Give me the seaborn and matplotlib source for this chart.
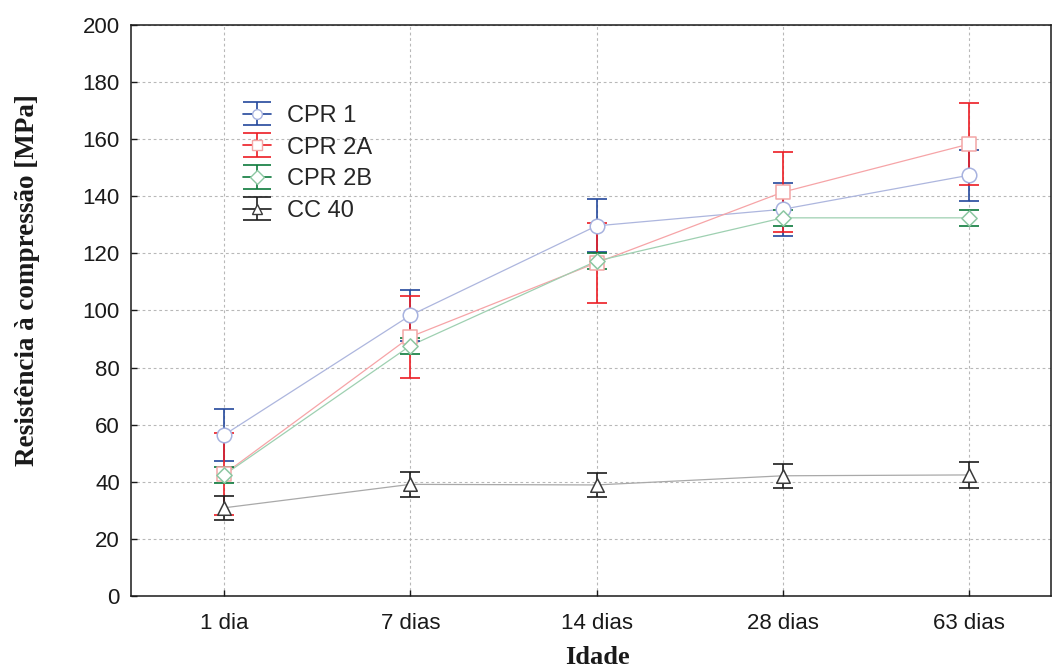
import numpy as np
import pandas as pd
import matplotlib
matplotlib.use("Agg")
import matplotlib.pyplot as plt
import seaborn as sns

# Data (mean strength and error bar half-widths, MPa)
ages = ["1 dia", "7 dias", "14 dias", "28 dias", "63 dias"]
series_names = ["CPR 1", "CPR 2A", "CPR 2B", "CC 40"]

cpr1_mean = [56.5, 98.3, 129.6, 135.4, 147.3]
cpr1_err = [9.0, 8.9, 9.3, 9.3, 8.9]
cpr2a_mean = [42.8, 90.8, 116.7, 141.4, 158.2]
cpr2a_err = [14.2, 14.3, 14.0, 14.1, 14.4]
cpr2b_mean = [42.5, 87.7, 117.3, 132.4, 132.4]
cpr2b_err = [2.8, 2.8, 2.7, 2.8, 2.8]
cc40_mean = [31.0, 39.2, 39.0, 42.2, 42.5]
cc40_err = [4.1, 4.3, 4.2, 4.2, 4.5]

y_ticks = [0, 20, 40, 60, 80, 100, 120, 140, 160, 180, 200]

# styles per series
bar_colors = ["#24489c", "#ec1c24", "#0d7a3c", "#1c1c1c"]
line_colors = ["#adb6de", "#f6a4a7", "#9ed0b1", "#a9a9a9"]
edge_colors = ["#a7b2df", "#f3a6a6", "#8cc7a2", "#3a3a3a"]
markers = ["o", "s", "D", "^"]
marker_sizes = [110, 110, 60, 95]

sns.set_theme(style="ticks")
plt.rcParams['font.family'] = ['Liberation Sans', 'DejaVu Sans']

means = [cpr1_mean, cpr2a_mean, cpr2b_mean, cc40_mean]
errs = [cpr1_err, cpr2a_err, cpr2b_err, cc40_err]
pos = np.arange(len(ages))

fig = plt.figure(figsize=(10.53, 6.72), dpi=100)
ax = fig.add_axes([0.1244, 0.1124, 0.8737, 0.8511])

handles = []
for i, name in enumerate(series_names):
    df = pd.DataFrame({"pos": pos, "value": means[i]})
    # thin light connecting line
    sns.lineplot(data=df, x="pos", y="value", color=line_colors[i], linewidth=0.9,
                 legend=False, ax=ax, zorder=2)
    # error bars
    ax.errorbar(pos, means[i], yerr=errs[i], fmt="none", ecolor=bar_colors[i],
                elinewidth=1.2, capsize=7, capthick=1.2, zorder=3)
    # hollow markers on top
    sns.scatterplot(data=df, x="pos", y="value", marker=markers[i], s=marker_sizes[i],
                    facecolor="white", edgecolor=edge_colors[i], linewidth=1.1,
                    legend=False, ax=ax, zorder=4)
    # legend proxy (removed from the axes, kept for the legend)
    proxy = ax.errorbar(pos, means[i], yerr=errs[i], fmt=markers[i] + "-",
                        color=bar_colors[i], mfc="white", mec=edge_colors[i],
                        ms=7, lw=1.2, capsize=10, capthick=1.2)
    proxy.remove()
    handles.append(proxy)

ax.set_xlim(-0.5, 4.44)
ax.set_ylim(0, 200)
ax.set_xticks(pos)
ax.set_xticklabels(ages)
ax.set_yticks(y_ticks)

ax.grid(True, linestyle=(0, (2.5, 2.5)), color="#b8b8b8", linewidth=0.8)
ax.set_axisbelow(True)
for side in ["left", "right", "top", "bottom"]:
    ax.spines[side].set_visible(True)
    ax.spines[side].set_color("#1a1a1a")
    ax.spines[side].set_linewidth(1.1)

ax.tick_params(axis="both", direction="in", length=4, width=1, color="#1a1a1a",
               labelsize=16, labelcolor="#1a1a1a")
ax.tick_params(axis="x", pad=12)
ax.tick_params(axis="y", pad=8)

ax.set_xlabel("Idade", fontfamily="Liberation Serif", fontweight="bold", fontsize=19,
              color="#1a1a1a")
ax.set_ylabel("Resistência à compressão [MPa]", fontfamily="Liberation Serif",
              fontweight="bold", fontsize=19.5, color="#1a1a1a")
ax.xaxis.set_label_coords(0.507, -0.087)
ax.yaxis.set_label_coords(-0.0985, 0.553)

ax.legend(handles, series_names, loc="upper left", bbox_to_anchor=(0.122, 0.8596),
          frameon=False, fontsize=17, borderpad=0, borderaxespad=0,
          handlelength=1.19, handletextpad=0.68, labelspacing=0.41)

fig.savefig("out.png", dpi=100)
